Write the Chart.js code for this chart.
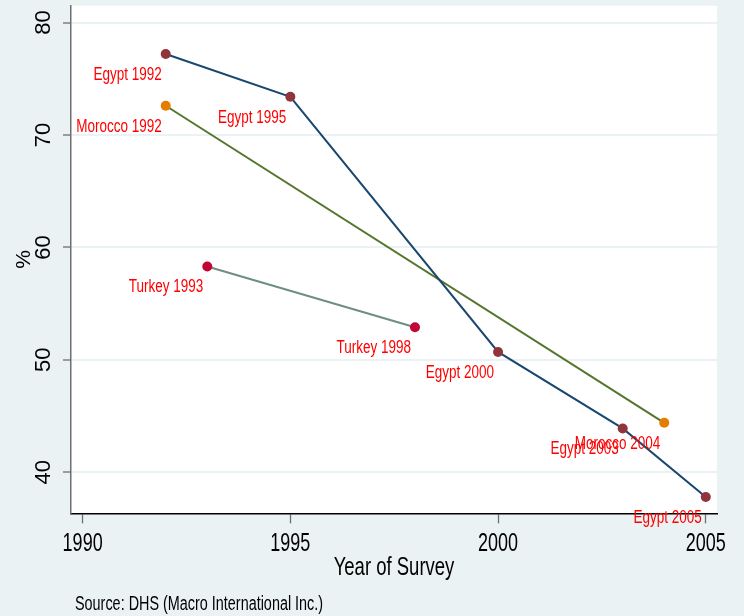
<!DOCTYPE html>
<html>
<head>
<meta charset="utf-8">
<title>DHS survey trend</title>
<script src="https://cdn.jsdelivr.net/npm/chart.js@4.4.1/dist/chart.umd.min.js"></script>
<style>
  html, body { margin: 0; padding: 0; background: #eaf2f3; }
  canvas { display: block; }
</style>
</head>
<body>
<canvas id="chart" width="744" height="616"></canvas>
<script>
// values (%)
const egyptYears = [1992, 1995, 2000, 2003, 2005];
const egyptValues = [77.2, 73.4, 50.7, 43.9, 37.8];
const moroccoYears = [1992, 2004];
const moroccoValues = [72.6, 44.4];
const turkeyYears = [1993, 1998];
const turkeyValues = [58.3, 52.9];

const xTickValues = [1990, 1995, 2000, 2005];
const yTickValues = [40, 50, 60, 70, 80];

const xTitle = 'Year of Survey';
const yTitle = '%';
const sourceNote = 'Source: DHS (Macro International Inc.)';

const FONT = "'Liberation Sans', Arial, sans-serif";
const BG = '#eaf2f3';

const toPoints = (years, values) => years.map((x, i) => ({ x, y: values[i] }));

const series = [
  { country: 'Egypt', years: egyptYears, values: egyptValues, line: '#1a476f', marker: '#90353b' },
  { country: 'Morocco', years: moroccoYears, values: moroccoValues, line: '#55752f', marker: '#e37e00' },
  { country: 'Turkey', years: turkeyYears, values: turkeyValues, line: '#6e8e84', marker: '#c10534' },
];

// squeezed text, like the narrow Stata font
function narrowText(ctx, text, x, y, size, squeeze, align) {
  ctx.save();
  ctx.translate(x, y);
  ctx.scale(squeeze, 1);
  ctx.font = `${size}px ${FONT}`;
  ctx.textAlign = align;
  ctx.textBaseline = 'middle';
  ctx.fillText(text, 0, 0);
  ctx.restore();
}

// linear axis whose horizontal labels/title are drawn condensed
class NarrowLinearScale extends Chart.LinearScale {
  drawLabels(chartArea) {
    const ctx = this.ctx;
    const squeeze = this.options.squeeze || 1;
    for (const item of this.getLabelItems(chartArea)) {
      const o = item.options;
      ctx.save();
      ctx.fillStyle = o.color;
      narrowText(ctx, String(item.label), o.translation[0], o.translation[1] + item.textOffset,
        item.font.size, squeeze, o.textAlign);
      ctx.restore();
    }
  }
  drawTitle() {
    const t = this.options.title;
    if (!t.display) return;
    const size = t.font.size;
    const offset = size * 1.2 / 2 + t.padding.bottom;
    const ctx = this.ctx;
    ctx.save();
    ctx.fillStyle = t.color;
    narrowText(ctx, t.text, (this.left + this.right) / 2, this.bottom - offset,
      size, this.options.titleSqueeze || 1, 'center');
    ctx.restore();
  }
}
NarrowLinearScale.id = 'narrowLinear';
NarrowLinearScale.defaults = Chart.LinearScale.defaults;
Chart.register(NarrowLinearScale);

// white plot region on the bluish-gray graph region
const plotBackground = {
  id: 'plotBackground',
  beforeDraw(chart) {
    const { ctx, chartArea: a } = chart;
    ctx.save();
    ctx.fillStyle = BG;
    ctx.fillRect(0, 0, chart.width, chart.height);
    ctx.fillStyle = '#ffffff';
    ctx.fillRect(a.left, a.top, a.right - a.left, a.bottom - a.top);
    ctx.restore();
  }
};

// "Egypt 1992" style marker labels, down-left of each point
const markerLabels = {
  id: 'markerLabels',
  afterDatasetsDraw(chart) {
    const { ctx } = chart;
    ctx.save();
    ctx.fillStyle = '#ff0000';
    chart.data.datasets.forEach((ds, di) => {
      const meta = chart.getDatasetMeta(di);
      meta.data.forEach((pt, i) => {
        narrowText(ctx, `${ds.label} ${ds.data[i].x}`, pt.x - 4, pt.y + 21, 18, 0.75, 'right');
      });
    });
    ctx.restore();
  }
};

const note = {
  id: 'note',
  afterDraw(chart) {
    const { ctx } = chart;
    ctx.save();
    ctx.fillStyle = '#000000';
    narrowText(ctx, sourceNote, 75, 604, 20, 0.72, 'left');
    ctx.restore();
  }
};

const datasets = series.map(s => ({
  label: s.country,
  data: toPoints(s.years, s.values),
  borderColor: s.line,
  borderWidth: 2,
  backgroundColor: s.marker,
  pointBackgroundColor: s.marker,
  pointBorderColor: s.marker,
  pointBorderWidth: 0,
  pointRadius: 5,
  tension: 0,
  fill: false,
  clip: false,
}));

const noPadding = axis => {
  axis.paddingTop = 0;
  axis.paddingBottom = 0;
  axis.paddingLeft = 0;
  axis.paddingRight = 0;
};

new Chart(document.getElementById('chart'), {
  type: 'line',
  data: { datasets },
  plugins: [plotBackground, markerLabels, note],
  options: {
    responsive: false,
    devicePixelRatio: 1,
    animation: false,
    events: [],
    layout: { padding: { top: 5.7, right: 27, bottom: 0, left: 0 } },
    plugins: {
      legend: { display: false },
      tooltip: { enabled: false },
    },
    scales: {
      x: {
        type: 'narrowLinear',
        axis: 'x',
        position: 'bottom',
        min: 1989.72,
        max: 2005.27,
        squeeze: 0.72,
        titleSqueeze: 0.74,
        afterBuildTicks: axis => { axis.ticks = xTickValues.map(value => ({ value })); },
        afterFit: axis => { axis.height = 102.7; noPadding(axis); },
        grid: { drawOnChartArea: false, tickLength: 10, tickColor: '#6f6f6f', tickWidth: 1.3 },
        border: { color: '#000000', width: 1.5 },
        ticks: {
          autoSkip: false,
          maxRotation: 0,
          padding: 6,
          color: '#000000',
          font: { family: FONT, size: 25 },
          callback: v => String(v),
        },
        title: {
          display: true,
          text: xTitle,
          color: '#000000',
          font: { family: FONT, size: 25 },
          padding: { top: 0, bottom: 33 },
        },
      },
      y: {
        type: 'linear',
        min: 36.35,
        max: 81.5,
        afterBuildTicks: axis => { axis.ticks = yTickValues.map(value => ({ value })); },
        afterFit: axis => { axis.width = 71; noPadding(axis); },
        grid: { color: BG, lineWidth: 2, tickLength: 8, tickColor: '#6f6f6f', tickWidth: 1.3 },
        border: { color: '#6f6f6f', width: 1.5 },
        ticks: {
          minRotation: 90,
          maxRotation: 90,
          crossAlign: 'center',
          padding: 7,
          color: '#000000',
          font: { family: FONT, size: 22 },
          callback: v => String(v),
        },
        title: {
          display: true,
          text: yTitle,
          color: '#000000',
          font: { family: FONT, size: 21 },
          padding: { top: 12, bottom: 0 },
        },
      },
    },
  },
});
</script>
</body>
</html>
